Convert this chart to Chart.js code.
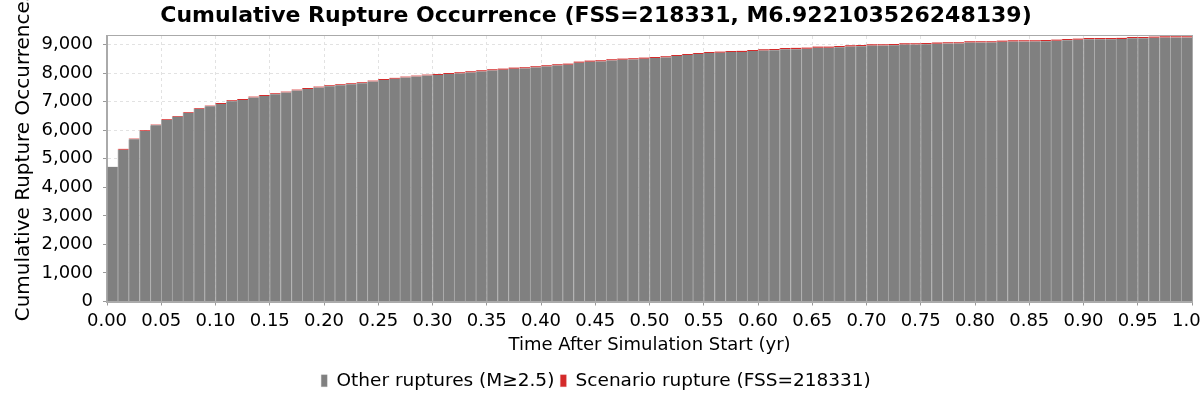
<!DOCTYPE html>
<html><head><meta charset="utf-8">
<script src="https://cdn.jsdelivr.net/npm/chart.js@4.4.1/dist/chart.umd.min.js"></script>
<style>html,body{margin:0;padding:0;background:#fff;overflow:hidden}canvas{display:block}</style>
</head><body>
<canvas id="c" width="1200" height="400"></canvas>
<script>
// Time bins (start of each 0.01 yr bin)
const timeBins = ["0.00","0.01","0.02","0.03","0.04","0.05","0.06","0.07","0.08","0.09",
"0.10","0.11","0.12","0.13","0.14","0.15","0.16","0.17","0.18","0.19",
"0.20","0.21","0.22","0.23","0.24","0.25","0.26","0.27","0.28","0.29",
"0.30","0.31","0.32","0.33","0.34","0.35","0.36","0.37","0.38","0.39",
"0.40","0.41","0.42","0.43","0.44","0.45","0.46","0.47","0.48","0.49",
"0.50","0.51","0.52","0.53","0.54","0.55","0.56","0.57","0.58","0.59",
"0.60","0.61","0.62","0.63","0.64","0.65","0.66","0.67","0.68","0.69",
"0.70","0.71","0.72","0.73","0.74","0.75","0.76","0.77","0.78","0.79",
"0.80","0.81","0.82","0.83","0.84","0.85","0.86","0.87","0.88","0.89",
"0.90","0.91","0.92","0.93","0.94","0.95","0.96","0.97","0.98","0.99"];

// Cumulative count of other ruptures (M>=2.5)
const otherRuptures = [4717,5317,5681,5971,6170,6356,6472,6601,6741,6835,
6921,7016,7061,7145,7201,7261,7320,7390,7446,7495,
7541,7576,7611,7646,7705,7761,7803,7845,7880,7915,
7931,7966,7990,8025,8060,8095,8120,8155,8165,8200,
8235,8270,8295,8365,8400,8410,8445,8470,8480,8505,
8526,8550,8596,8631,8666,8701,8715,8736,8740,8771,
8790,8801,8836,8840,8850,8885,8888,8906,8930,8941,
8965,8967,8976,9000,9002,9011,9030,9037,9040,9070,
9072,9075,9095,9105,9107,9110,9116,9130,9151,9165,
9186,9187,9189,9191,9221,9223,9235,9245,9247,9249];

// Cumulative count of scenario rupture occurrences
const scenarioRupture = [0,30,30,30,30,30,30,30,30,30,
35,35,35,35,35,35,35,35,35,35,
35,35,35,35,35,35,35,35,35,35,
40,40,40,40,40,40,40,40,40,40,
40,40,40,40,40,40,40,40,40,40,
40,40,40,40,40,40,40,40,40,40,
45,45,45,45,45,45,45,45,45,45,
45,45,45,45,45,45,45,45,45,45,
45,45,45,45,45,45,45,45,45,45,
45,45,45,45,45,45,45,45,45,45];

const xTickValues = [0.00,0.05,0.10,0.15,0.20,0.25,0.30,0.35,0.40,0.45,0.50,0.55,0.60,0.65,0.70,0.75,0.80,0.85,0.90,0.95,1.00];
const yTickValues = [0,1000,2000,3000,4000,5000,6000,7000,8000,9000];

const FONT = '"DejaVu Sans", "Liberation Sans", sans-serif';
Chart.defaults.font.family = FONT;
Chart.defaults.color = '#000';

const frame = {
  id: 'frame',
  afterDatasetsDraw(chart) {
    const {ctx, chartArea: a} = chart;
    ctx.save();
    ctx.strokeStyle = '#aaaaaa';
    ctx.lineWidth = 1;
    ctx.strokeRect(Math.round(a.left) - 0.5, Math.round(a.top) - 0.5, Math.round(a.right - a.left) + 1, Math.round(a.bottom - a.top) + 1);
    ctx.restore();
  }
};

new Chart(document.getElementById('c'), {
  type: 'bar',
  data: {
    labels: timeBins,
    datasets: [
      {label: 'Other ruptures (M\u22652.5)', data: otherRuptures, backgroundColor: '#808080',
       borderColor: '#ababab', borderWidth: {left: 1, right: 0, top: 0, bottom: 0}, borderSkipped: false,
       barPercentage: 1, categoryPercentage: 1, xAxisID: 'x', yAxisID: 'y'},
      {label: 'Scenario rupture (FSS=218331)', data: scenarioRupture, backgroundColor: '#d42a2a',
       borderColor: '#e07070', borderWidth: {left: 1, right: 0, top: 0, bottom: 0}, borderSkipped: false,
       barPercentage: 1, categoryPercentage: 1, xAxisID: 'x', yAxisID: 'y'}
    ]
  },
  options: {
    responsive: false,
    animation: false,
    layout: {padding: {left: 0, right: 8, top: 0, bottom: 0}},
    plugins: {
      title: {display: true, text: 'Cumulative Rupture Occurrence (FSS=218331, M6.922103526248139)',
        font: {size: 22, weight: 'bold', family: FONT}, color: '#000', padding: {top: 3, bottom: 6.6}},
      legend: {position: 'bottom', labels: {boxWidth: 6, boxHeight: 12, font: {size: 18.5, family: FONT}, color: '#000', padding: 6}},
      tooltip: {enabled: false}
    },
    scales: {
      x: {type: 'category', stacked: true, display: false, offset: true},
      xt: {type: 'linear', position: 'bottom', min: 0, max: 1, offset: false,
        afterBuildTicks: s => { s.ticks = xTickValues.map(v => ({value: v})); },
        afterFit: s => { s.paddingLeft = 0; s.paddingRight = 0; s.height = 400 - 301.5 - s.chart.legend.height; },
        ticks: {autoSkip: false, maxRotation: 0, minRotation: 0, padding: 5, font: {size: 18, family: FONT}, color: '#000',
          callback: v => Number(v).toFixed(2)},
        grid: {offset: false, color: '#e2e2e2', lineWidth: 1, tickLength: 4, tickColor: '#999999', tickBorderDash: [], drawTicks: true},
        border: {display: true, color: '#aaaaaa', dash: [3, 3]},
        title: {display: true, text: 'Time After Simulation Start (yr)', font: {size: 18, family: FONT}, color: '#000', padding: {top: 0, bottom: 9}}
      },
      y: {stacked: true, min: 0, max: 9300,
        afterBuildTicks: s => { s.ticks = yTickValues.map(v => ({value: v})); },
        afterFit: s => { s.width = 107; s.paddingTop = 0; s.paddingBottom = 0; },
        ticks: {padding: 10, font: {size: 18, family: FONT}, color: '#000',
          callback: v => String(v).replace(/\B(?=(\d{3})+(?!\d))/g, ',')},
        grid: {color: '#e2e2e2', lineWidth: 1, tickLength: 4, tickColor: '#999999', tickBorderDash: []},
        border: {display: true, color: '#aaaaaa', dash: [3, 3]},
        title: {display: true, text: '    Cumulative Rupture Occurrences', font: {size: 20, family: FONT}, color: '#000', padding: {top: 12, bottom: 0}}
      }
    }
  },
  plugins: [frame]
});
</script>
</body></html>
